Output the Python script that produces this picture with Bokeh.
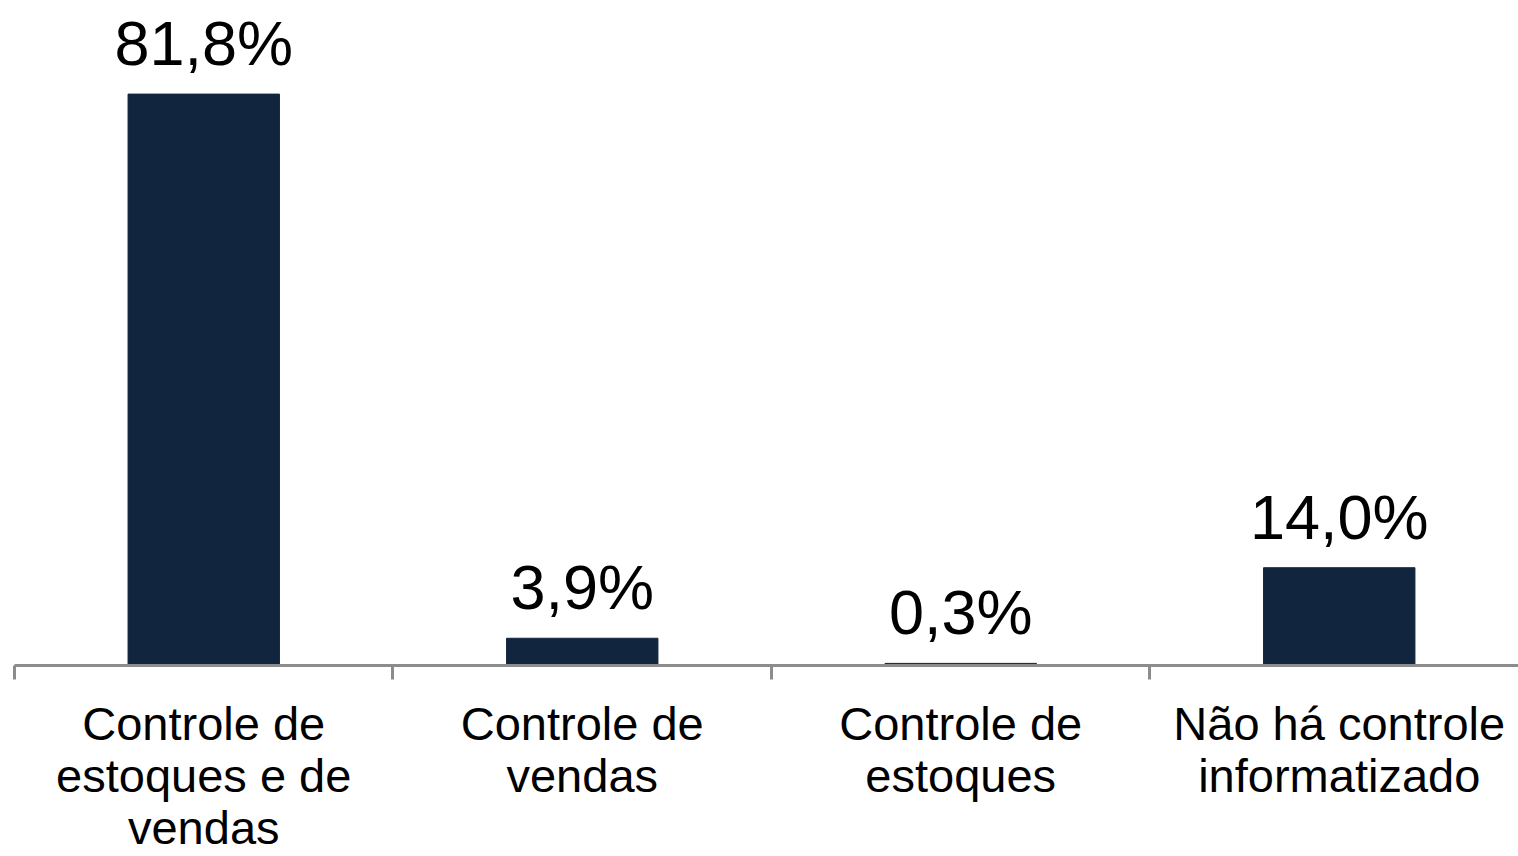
from bokeh.plotting import figure
from bokeh.models import ColumnDataSource, FixedTicker, LabelSet, Range1d, LinearAxis
from bokeh.core.properties import value
from bokeh.embed import file_html
from bokeh.resources import INLINE

categories = ["Controle de\nestoques e de\nvendas", "Controle de\nvendas",
              "Controle de\nestoques", "Não há controle\ninformatizado"]
values = [81.8, 3.9, 0.3, 14.0]
value_labels = ["81,8%", "3,9%", "0,3%", "14,0%"]

xc = [i + 0.5 for i in range(len(categories))]
src = ColumnDataSource(dict(x=xc, top=values, lab=value_labels))

p = figure(width=1518, height=856, output_backend="svg", toolbar_location=None,
           x_range=Range1d(0, 3.9736), y_range=Range1d(0, 95.2),
           y_axis_location=None, min_border_left=14, min_border_right=0,
           min_border_top=0, min_border_bottom=190)
p.outline_line_color = None
p.xgrid.visible = False
p.ygrid.visible = False

p.vbar(x="x", top="top", bottom=0, width=0.4, source=src,
       fill_color="#12253F", line_color="#12253F")

labels = LabelSet(x="x", y="top", text="lab", source=src, x_offset=0, y_offset=29,
                  text_align="center", text_baseline="alphabetic",
                  text_font=value("Liberation Sans"), text_font_size="63px",
                  text_color="black")
p.add_layout(labels)

# main axis: line and separator ticks between categories
ax = p.xaxis[0]
ax.ticker = FixedTicker(ticks=[], minor_ticks=[0, 1, 2, 3, 4])
ax.major_tick_line_color = None
ax.major_tick_out = 14
ax.major_tick_in = 0
ax.major_label_standoff = 0
ax.minor_tick_line_color = "#8C8C8C"
ax.minor_tick_line_width = 3
ax.minor_tick_out = 14
ax.minor_tick_in = 0
ax.axis_line_color = "#8C8C8C"
ax.axis_line_width = 3

# category labels, one axis per text line
split = [c.split("\n") for c in categories]
standoffs = [17, -4, -4]
for r in range(3):
    ticks = [x for x, s in zip(xc, split) if len(s) > r]
    over = {x: s[r] for x, s in zip(xc, split) if len(s) > r}
    a = LinearAxis(ticker=FixedTicker(ticks=ticks, minor_ticks=[]),
                   major_label_overrides=over)
    a.axis_line_color = None
    a.major_tick_line_color = None
    a.minor_tick_line_color = None
    a.major_tick_out = 0
    a.major_tick_in = 0
    a.minor_tick_out = 0
    a.minor_tick_in = 0
    a.major_label_standoff = standoffs[r]
    a.major_label_text_font = "Liberation Sans"
    a.major_label_text_font_size = "47px"
    a.major_label_text_color = "black"
    p.add_layout(a, "below")

open("out.html", "w").write(file_html(p, INLINE))
